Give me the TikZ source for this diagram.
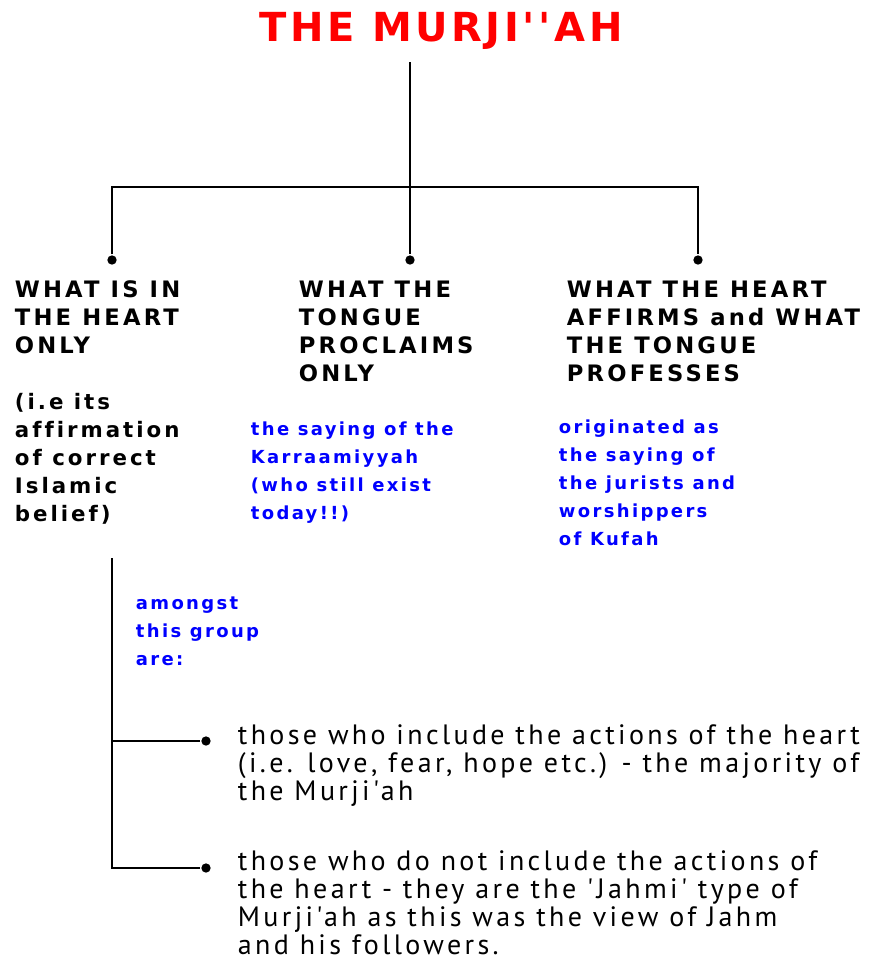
\documentclass[tikz,border=0pt]{standalone}
\usepackage{fontspec}
\setmainfont{DejaVu Sans}
\newfontfamily\titlefont[LetterSpace=9,Ligatures=TeXOff]{DejaVu Sans}
\newfontfamily\headfont[LetterSpace=14,Ligatures={TeXOff,NoCommon}]{DejaVu Sans}
\newfontfamily\notefont[LetterSpace=13,Ligatures={TeXOff,NoCommon}]{DejaVu Sans}
\newfontfamily\listfont[LetterSpace=12,Ligatures={TeXOff,NoCommon}]{PT Sans}
\definecolor{murjired}{RGB}{255,0,0}
\definecolor{noteblue}{RGB}{0,0,255}
\tikzset{
  maintitle/.style={
    % The text:
    inner sep=0pt,
    text=murjired,
    font=\titlefont\bfseries\fontsize{30}{32}\selectfont},
  heading/.style={
    % The shape:
    rectangle,
    inner sep=0pt,
    anchor=north west,
    % The text:
    align=left,
    font=\headfont\bfseries\fontsize{17}{21}\selectfont},
  note/.style={
    % The shape:
    rectangle,
    inner sep=0pt,
    anchor=north west,
    % The text:
    align=left,text=noteblue,
    font=\notefont\bfseries\fontsize{13.5}{21}\selectfont},
  listitem/.style={
    rectangle,inner sep=0pt,anchor=north west,
    align=left,
    font=\listfont\fontsize{21}{21}\selectfont},
  branch dot/.style={
    circle,fill=black,inner sep=0pt,minimum size=7pt}
}

\begin{document}
\begin{tikzpicture}[x=0.75pt,y=-0.75pt,point/.style={coordinate},
                    line width=1.4pt]
  \useasboundingbox (0,0) rectangle (872,961);

  \node (title) [maintitle] at (441,31) {THE MURJI''AH};

  % the three branches
  \node (stem) [point] at (410,62) {};
  \node (hub)  [point] at (410,187) {};
  \node (d1) [branch dot] at (112,260) {};
  \node (d2) [branch dot] at (410,260) {};
  \node (d3) [branch dot] at (698,260) {};
  \draw (stem) -- (d2);
  \draw (d1) |- (hub) -| (d3);

  \node (heart)  [heading] at (14,280)  {WHAT IS IN\\THE HEART\\ONLY};
  \node (tongue) [heading] at (298,280) {WHAT THE\\TONGUE\\PROCLAIMS\\ONLY};
  \node (both)   [heading] at (566,280) {WHAT THE HEART\\AFFIRMS and WHAT\\THE TONGUE\\PROFESSES};

  \node (heartnote)  [heading,font=\headfont\bfseries\fontsize{16}{21}\selectfont] at (14,392) {(i.e its\\affirmation\\of correct\\Islamic\\belief)};
  \node (tonguenote) [note] at (250,421) {the saying of the\\Karraamiyyah\\(who still exist\\today!!)};
  \node (bothnote)   [note] at (558,419) {originated as\\the saying of\\the jurists and\\worshippers\\of Kufah};

  % the group under the heart
  \node (trunk) [point] at (112,558) {};
  \node (amongst) [note] at (135,596) {amongst\\this group\\are:};
  \node (e1) [branch dot] at (206,741) {};
  \node (e2) [branch dot] at (206,868) {};
  \node (fork) [point] at (trunk |- e1) {};
  \draw (trunk) |- (e2);
  \draw (fork) -- (e1);

  \node (actions)   [listitem] at (237,724) {those who include the actions of the heart\\(i.e. love, fear, hope etc.) - the majority of\\the Murji'ah};
  \node (noactions) [listitem] at (237,850) {those who do not include the actions of\\the heart - they are the 'Jahmi' type of\\Murji'ah as this was the view of Jahm\\and his followers.};
\end{tikzpicture}
\end{document}
